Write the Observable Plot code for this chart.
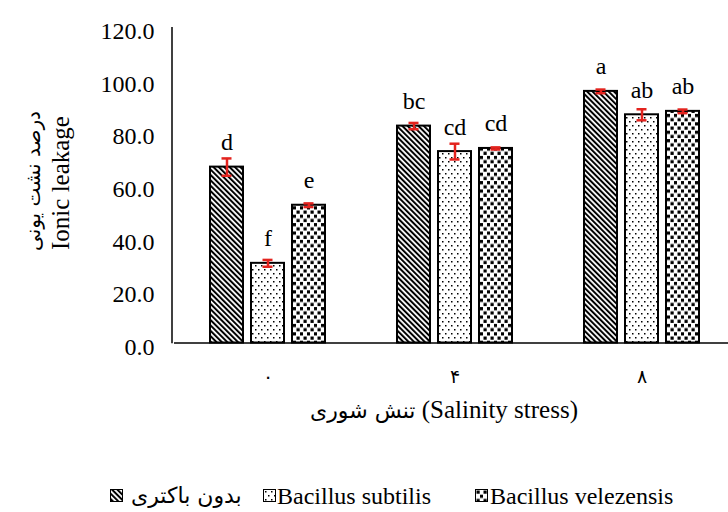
<!DOCTYPE html>
<html><head><meta charset="utf-8">
<script src="https://cdn.jsdelivr.net/npm/d3@7"></script>
<script src="https://cdn.jsdelivr.net/npm/@observablehq/plot@0.6"></script>
<style>
body{margin:0;background:#fff;}
#wrap{position:relative;width:728px;height:512px;overflow:hidden;font-family:'Liberation Serif',serif;color:#000;}
.abs{position:absolute;white-space:nowrap;line-height:1;font-family:'Liberation Serif','DejaVu Sans',serif;}
.rot{transform:translate(-50%,-50%) rotate(-90deg);}
.ctr{transform:translate(-50%,-50%);}
.sw{position:absolute;width:11px;height:11px;border:1.5px solid #000;}
</style></head><body>
<svg width="0" height="0" style="position:absolute">
<defs>
<pattern id="pat0" patternUnits="userSpaceOnUse" width="3.8" height="3.8" patternTransform="rotate(-45)">
<rect width="3.8" height="3.8" fill="#fff"/><rect width="2" height="3.8" fill="#000"/>
</pattern>
<pattern id="pat1" patternUnits="userSpaceOnUse" width="6" height="8">
<rect width="6" height="8" fill="#fff"/><rect x="1" y="1" width="1.5" height="1.5" fill="#000"/><rect x="4" y="5" width="1.5" height="1.5" fill="#000"/>
</pattern>
<pattern id="pat2" patternUnits="userSpaceOnUse" width="7" height="8.4">
<rect width="7" height="8.4" fill="#fff"/><rect x="0.5" y="0.5" width="3.2" height="3.2" fill="#000"/><rect x="4" y="4.7" width="3.2" height="3.2" fill="#000"/>
</pattern>
</defs>
</svg>
<div id="wrap"></div>
<script>
const groups = ["۰", "۴", "۸"];
const series = ["بدون باکتری", "Bacillus subtilis", "Bacillus velezensis"];
const noBacteria = [66.9, 82.5, 95.7];
const subtilis = [30.3, 72.8, 86.8];
const velezensis = [52.4, 74.0, 88.1];
const errNoBacteria = [3.3, 1.2, 0.7];
const errSubtilis = [1.3, 3.0, 2.1];
const errVelezensis = [0.7, 0.4, 0.7];
const lettersNoBacteria = ["d", "bc", "a"];
const lettersSubtilis = ["f", "cd", "ab"];
const lettersVelezensis = ["e", "cd", "ab"];
const yTicks = [0, 20, 40, 60, 80, 100, 120];

const patternOf = {[series[0]]: "url(#pat0)", [series[1]]: "url(#pat1)", [series[2]]: "url(#pat2)"};
const values = [noBacteria, subtilis, velezensis];
const errs = [errNoBacteria, errSubtilis, errVelezensis];
const letters = [lettersNoBacteria, lettersSubtilis, lettersVelezensis];
const rows = [];
groups.forEach((g, i) => series.forEach((s, j) => rows.push({
  group: g, series: s, value: values[j][i], err: errs[j][i], letter: letters[j][i]
})));

const W = 728, H = 440, ML = 172, MT = 27, MB = 97.5;
const red = "#e3231e";
const serif = "'Liberation Serif','Times New Roman',serif";
const chart = Plot.plot({
  width: W, height: H,
  marginLeft: ML, marginRight: 0, marginTop: MT, marginBottom: MB,
  style: {background: "transparent", fontFamily: serif, fontSize: "24px", color: "#000"},
  color: {type: "identity"},
  fx: {domain: groups, range: [173.25, 735.75], padding: 0, label: null, tickSize: 0, tickPadding: 26, axis: "bottom"},
  x: {domain: series, paddingInner: 0.19, paddingOuter: 0.83, axis: null},
  y: {domain: [0, 120], ticks: yTicks, tickFormat: d => d.toFixed(1), tickSize: 0, tickPadding: 20, label: null},
  marks: [
    Plot.barY(rows, {fx: "group", x: "series", y: "value", fill: d => patternOf[d.series], stroke: "#000", strokeWidth: 2}),
    Plot.ruleY([0], {stroke: "#000", strokeWidth: 1.5}),
    Plot.ruleX(rows, {fx: "group", x: "series", y1: d => d.value - d.err, y2: d => d.value + d.err, stroke: red, strokeWidth: 2.5}),
    Plot.tickY(rows, {fx: "group", x: "series", y: d => d.value - d.err, stroke: red, strokeWidth: 2.5, insetLeft: 11.5, insetRight: 11.5}),
    Plot.tickY(rows, {fx: "group", x: "series", y: d => d.value + d.err, stroke: red, strokeWidth: 2.5, insetLeft: 11.5, insetRight: 11.5}),
    Plot.text(rows, {fx: "group", x: "series", y: "value", text: "letter", dy: -17, lineAnchor: "bottom", fontSize: 24, fontFamily: serif})
  ]
});
const yScale = chart.scale("y");
d3.select(chart).append("line")
  .attr("x1", ML).attr("x2", ML)
  .attr("y1", yScale.apply(120)).attr("y2", yScale.apply(0) + 0.75)
  .attr("stroke", "#000").attr("stroke-width", 1.5);
// shift y tick labels slightly down, as in the reference
d3.select(chart).selectAll("g[aria-label='y-axis tick label']").each(function() {
  const t = this.getAttribute("transform") || "";
  this.setAttribute("transform", t + " translate(0,4)");
});
// Persian digits on the x axis: thinner, smaller
d3.select(chart).selectAll("g[aria-label='fx-axis tick label'] text")
  .style("font-family", "'DejaVu Sans',sans-serif").style("font-size", "19px");

const wrap = document.getElementById("wrap");
wrap.appendChild(chart);
chart.style.position = "absolute"; chart.style.left = "0"; chart.style.top = "0";

function addText(txt, x, y, size, cls, family) {
  const d = document.createElement("div");
  d.className = "abs " + cls;
  d.style.left = x + "px"; d.style.top = y + "px"; d.style.fontSize = size + "px";
  d.style.fontFamily = family || serif;
  d.dir = "ltr";
  d.textContent = txt;
  wrap.appendChild(d);
  return d;
}
addText("درصد نشت یونی", 33, 181, 20, "rot", "'DejaVu Sans',sans-serif");
addText("Ionic leakage", 60, 183, 25, "rot");
const xt = addText("", 444, 409, 25, "ctr");
xt.innerHTML = '<span style="font-family:\'DejaVu Sans\',sans-serif;font-size:22px">تنش شوری</span> <span>(Salinity stress)</span>';

const legendItems = [
  {label: series[0], sw: 110, tx: 131, pat: "url(#pat0)", fam: "'DejaVu Sans',sans-serif", size: 22},
  {label: series[1], sw: 263, tx: 277, pat: "url(#pat1)"},
  {label: series[2], sw: 475, tx: 490, pat: "url(#pat2)"}
];
legendItems.forEach(it => {
  const s = document.createElement("div");
  s.className = "sw";
  s.style.left = it.sw + "px"; s.style.top = "489px";
  s.innerHTML = `<svg width="11" height="11" style="display:block"><rect width="11" height="11" fill="${it.pat}"/></svg>`;
  wrap.appendChild(s);
  const t = addText(it.label, it.tx, 496, it.size || 24, "", it.fam);
  t.style.transform = "translateY(-50%)";
});
</script>
</body></html>
